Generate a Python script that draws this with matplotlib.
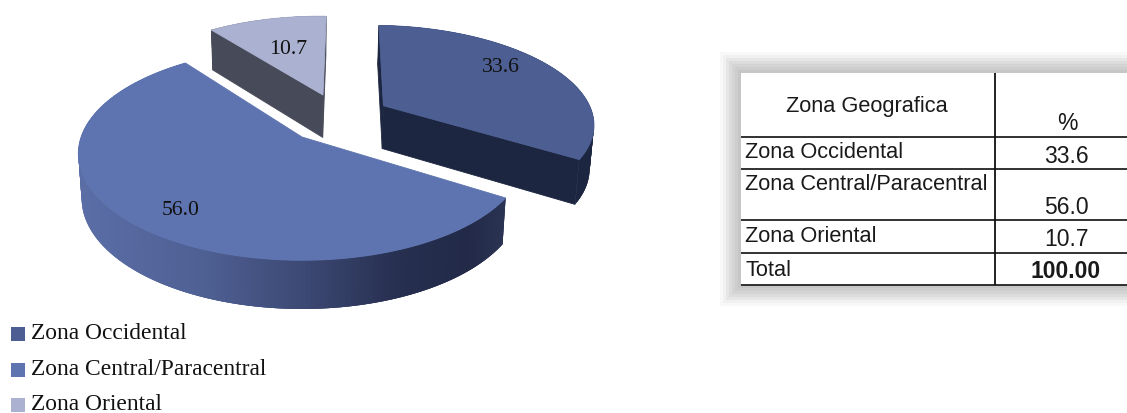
import matplotlib
matplotlib.use('Agg')
import matplotlib.pyplot as plt
from matplotlib.patches import Rectangle
import numpy as np

# data
zonas = ['Zona Occidental', 'Zona Central/Paracentral', 'Zona Oriental']
valores = [33.6, 56.0, 10.7]
total_label = '100.00'

# pie styles, same order as zonas
colores_top = ['#4c5e92', '#5e74b0', '#abb1d0']
colores_cut = ['#1c2640', '#1c2640', '#474a58']
explode = [(0.385, 0.315), (0.0, 0.0), (0.101, 0.43)]
radios = [0.975, 0.995, 0.99]
start_central = 126.5

# pixels of the pie on the page and the perspective
cx, cy = 302, 138
A, B, K = 222, 104.3, 0.159


# disc coords -> page, depth=1 gives the lower ring
def project(u, v, depth=0):
    w = 1 + K * v
    x = A * u / w
    y = B * v / w
    if depth:
        return cx + x * 0.985, cy - y + 19 + 25 / w
    return cx + x, cy - y


def ring(a0, a1, off, radio, depth=0, n=200):
    t = np.radians(np.linspace(a0, a1, n))
    return project(off[0] + radio * np.cos(t), off[1] + radio * np.sin(t), depth)


def central_wall_color(x):
    xs = [85, 200, 300, 400, 470, 503]
    cs = ['#5a6da5', '#4f6094', '#3d4a75', '#272f50', '#222a48', '#2a3352']
    rgb = [matplotlib.colors.to_rgb(c) for c in cs]
    return [np.interp(x, xs, [r[i] for r in rgb]) for i in range(3)]


fig = plt.figure(figsize=(11.27, 4.14), dpi=100)
ax = fig.add_axes([0, 0, 1, 1])
ax.set_xlim(0, 1127)
ax.set_ylim(414, 0)
ax.axis('off')

# slice angles from the values, going round from the central zone
suma = sum(valores)
ang = {}
a = start_central
for i in [1, 0, 2]:
    span = valores[i] / suma * 360
    ang[i] = (a, a + span)
    a += span

# back to front: oriental, central, occidental
for i in [2, 1, 0]:
    a0, a1 = ang[i]
    off = explode[i]
    xt, yt = ring(a0, a1, off, radios[i])
    xb, yb = ring(a0, a1, off, radios[i], 1)
    # outer wall, overlapping strips so no seams show
    for j in range(len(xt) - 1):
        if i == 1:
            col = central_wall_color((xt[j] + xt[j + 1]) / 2)
        else:
            col = colores_cut[i]
        k = min(j + 3, len(xt) - 1)
        ax.fill([xt[j], xt[k], xb[k], xb[j]], [yt[j], yt[k], yb[k], yb[j]],
                color=col, lw=0, zorder=2)
    # cut faces
    if i != 1:
        x0, y0 = project(off[0], off[1])
        x0b, y0b = project(off[0], off[1], 1)
        ax.fill([x0, xt[0], xb[0], x0b], [y0, yt[0], yb[0], y0b], color=colores_cut[i], lw=0.6, zorder=2)
        ax.fill([x0, xt[-1], xb[-1], x0b], [y0, yt[-1], yb[-1], y0b], color=colores_cut[i], lw=0.6, zorder=2)
    x0, y0 = project(off[0], off[1])
    ax.fill(np.r_[x0, xt], np.r_[y0, yt], color=colores_top[i], lw=0.6, zorder=3)

# value labels
pos_labels = [(501, 68), (181, 211), (288, 49)]
for v, p in zip(valores, pos_labels):
    ax.text(p[0], p[1], '%.1f' % v, ha='center', va='center', fontsize=15.7,
            family='Liberation Serif', color='#111111', zorder=5)

# legend
for nombre, col, y in zip(zonas, colores_top, [334.5, 370.5, 406]):
    ax.add_patch(Rectangle((11, y - 7), 14, 14, color=col, lw=0))
    ax.text(31, y - 1, nombre, ha='left', va='center', fontsize=16.9, family='Liberation Serif', color='#111111')

# table shadow, greys stepping in towards the box
steps = [(21, '#f8f8f8'), (18, '#f1f1f1'), (15, '#e6e6e6'), (12, '#dcdcdc'),
         (9, '#d4d4d4'), (6, '#cdcdcd'), (3, '#c6c6c6')]
for s, col in steps:
    ax.add_patch(Rectangle((741 - s, 74 - s), 500, 212 + 2 * s, color=col, lw=0, zorder=1))
ax.add_patch(Rectangle((741, 74), 500, 212, color='white', lw=0, zorder=1))

# table lines
for y in [138, 170, 221, 254, 286]:
    ax.plot([741, 1127], [y, y], color='#222222', lw=1.3, zorder=2, solid_capstyle='butt')
ax.plot([995, 995], [74, 286], color='#111111', lw=1.3, zorder=2, solid_capstyle='butt')

# table text
fuente = dict(family='Liberation Sans', color='#1a1a1a', fontsize=15.7, zorder=4)
numeros = dict(family='Liberation Sans', color='#1a1a1a', fontsize=16.5, zorder=4)
ax.text(867, 107, 'Zona Geografica', ha='center', va='center', **fuente)
ax.text(1067, 124, '%', ha='center', va='center', **numeros)
for nombre, y in zip(zonas, [153, 185, 237]):
    ax.text(745, y, nombre, ha='left', va='center', **fuente)
for v, y in zip(valores, [157, 208, 240]):
    ax.text(1066, y, '%.1f' % v, ha='center', va='center', **numeros)
ax.text(745, 271, 'Total', ha='left', va='center', **fuente)
ax.text(1066, 272, total_label, ha='center', va='center', fontweight='bold', **numeros)

fig.savefig('out.png', dpi=100)
